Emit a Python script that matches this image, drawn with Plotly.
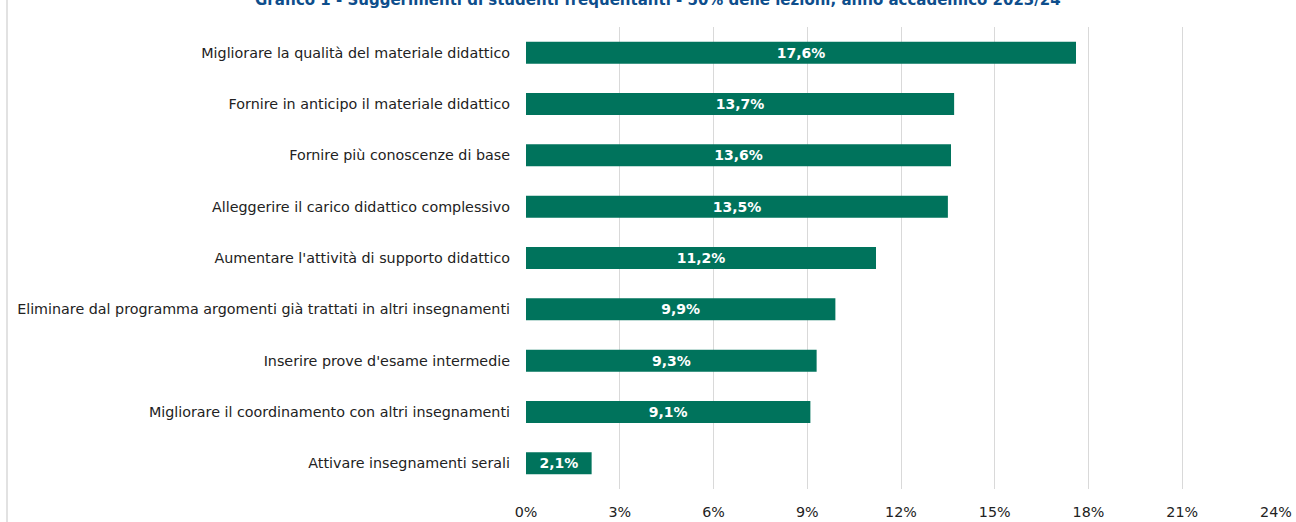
import plotly.graph_objects as go

categories = [
    "Migliorare la qualità del materiale didattico",
    "Fornire in anticipo il materiale didattico",
    "Fornire più conoscenze di base",
    "Alleggerire il carico didattico complessivo",
    "Aumentare l'attività di supporto didattico",
    "Eliminare dal programma argomenti già trattati in altri insegnamenti",
    "Inserire prove d'esame intermedie",
    "Migliorare il coordinamento con altri insegnamenti",
    "Attivare insegnamenti serali",
]
values = [17.6, 13.7, 13.6, 13.5, 11.2, 9.9, 9.3, 9.1, 2.1]
tick_vals = [0, 3, 6, 9, 12, 15, 18, 21, 24]
tick_text = [f"{v}%" for v in tick_vals]
labels = [f"{v:.1f}%".replace(".", ",") for v in values]
title = "Grafico 1 - Suggerimenti di studenti frequentanti - 50% delle lezioni, anno accademico 2023/24"

FONT = "DejaVu Sans"

fig = go.Figure(go.Bar(
    x=values,
    y=categories,
    orientation="h",
    marker=dict(color="#00735C", line=dict(width=0)),
    width=0.43,
    text=labels,
    textposition="inside",
    insidetextanchor="middle",
    textangle=0,
    textfont=dict(family=FONT, size=14, color="white", weight="bold"),
    hoverinfo="skip",
))

fig.update_layout(
    width=1296, height=522,
    margin=dict(l=526, r=20, t=27, b=33, autoexpand=False),
    plot_bgcolor="white", paper_bgcolor="white",
    showlegend=False,
    font=dict(family=FONT, size=14.3, color="#222222"),
    xaxis=dict(
        range=[0, 24], tickvals=tick_vals, ticktext=tick_text,
        showgrid=True, gridcolor="#D9D9D9", gridwidth=1,
        zeroline=False, showline=False, ticks="",
        tickfont=dict(size=14.3, color="#222222"), ticklabelstandoff=13,
        automargin=False, fixedrange=True,
    ),
    yaxis=dict(
        autorange="reversed", showgrid=False, showline=False, ticks="",
        tickfont=dict(size=14.3, color="#222222"), ticklabelstandoff=15,
        automargin=False, fixedrange=True,
    ),
    annotations=[dict(
        text=f"<b>{title}</b>", xref="paper", yref="paper",
        x=(658 - 526) / 750, y=1.0, xanchor="center", yanchor="middle",
        showarrow=False, yshift=27,
        font=dict(size=15, color="#0E4E8C", family=FONT),
    )],
)

# left border of the chart area
fig.add_shape(type="line", xref="paper", yref="paper",
              x0=(7 - 526) / 750, x1=(7 - 526) / 750, y0=-0.2, y1=1.2,
              line=dict(color="#D9D9D9", width=1.5))

fig.write_html("out.html",
               config={"displayModeBar": False},
               post_script="document.body.style.margin='0';document.body.style.overflow='hidden';")
